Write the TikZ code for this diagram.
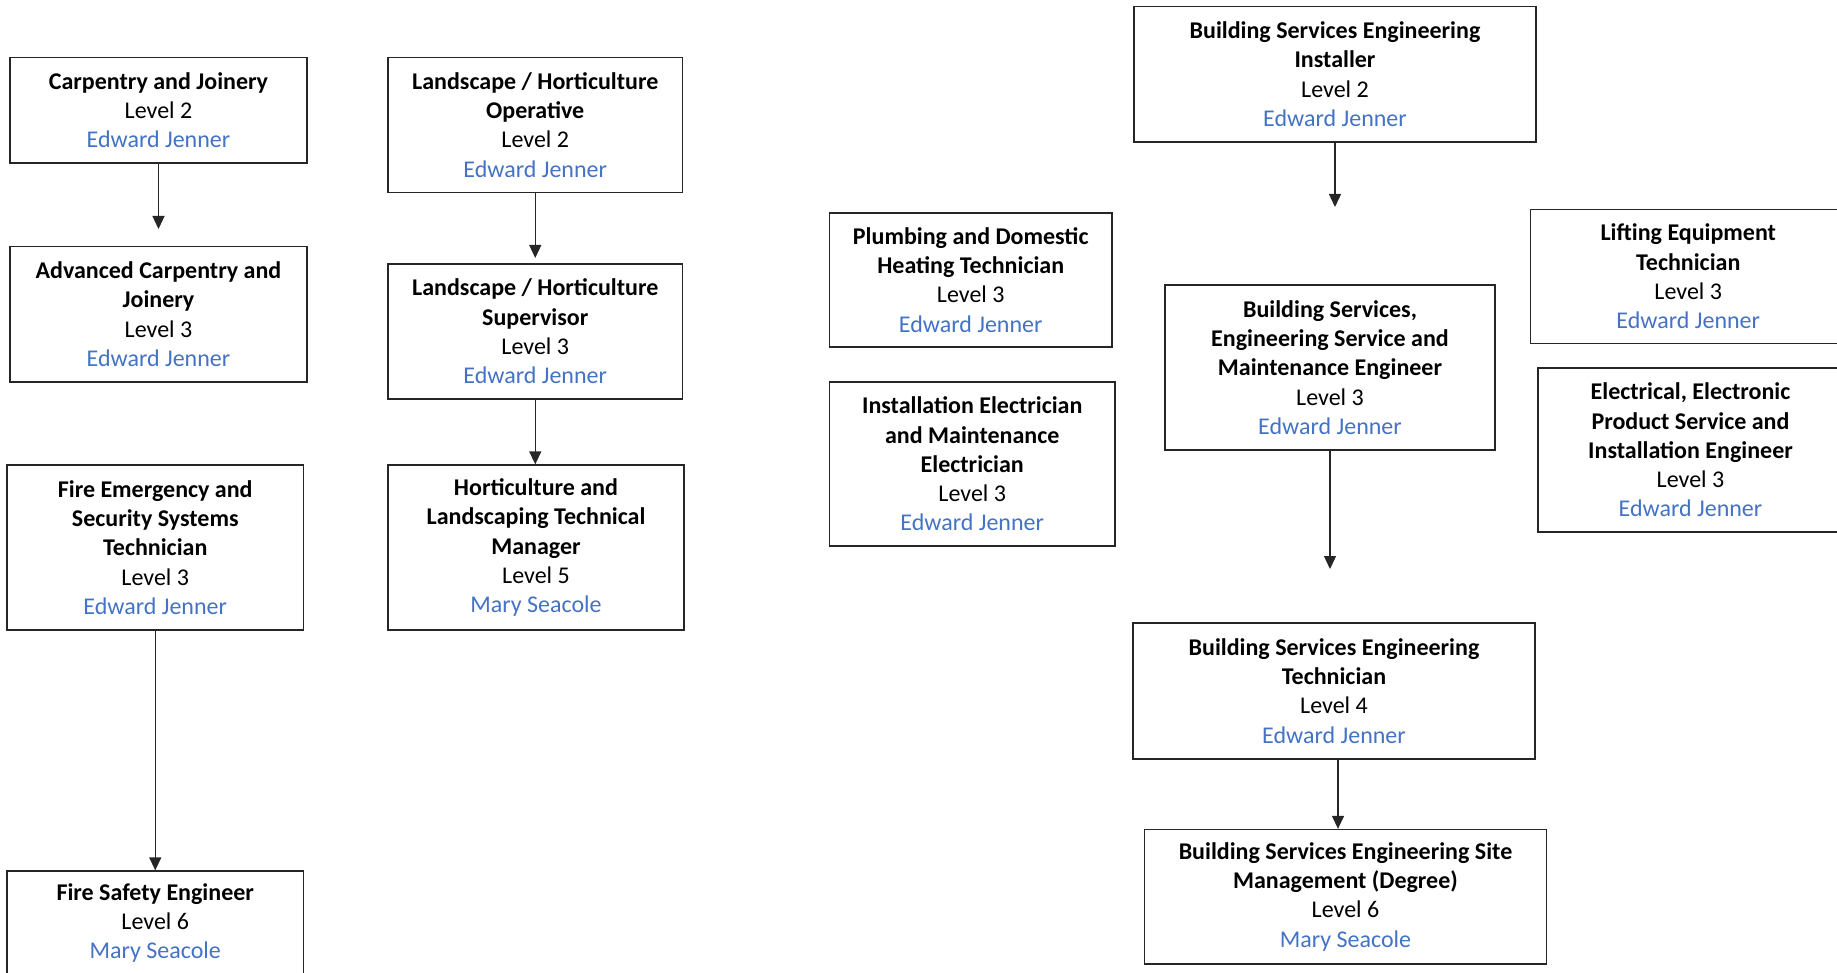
\documentclass[tikz,border=0pt]{standalone}
\usepackage{fontspec}
\setmainfont{Carlito}
\usetikzlibrary{arrows.meta}
\definecolor{ej}{RGB}{68,114,196}
\tikzset{
  box/.style={draw=black!85, line width=1.3pt, align=center, inner sep=0pt,
    font=\fontsize{24}{29.3}\selectfont},
  arr/.style={draw=black!85, line width=1.3pt, -{Triangle[width=12pt,length=13pt]}}
}
\begin{document}
\begin{tikzpicture}[x=1pt,y=-1pt]
\useasboundingbox (0,0) rectangle (1837,973);
% left column
\node[box, minimum width=297pt, minimum height=105.5pt] (carp) at (158.5,110.25)
  {{\bfseries Carpentry and Joinery}\\Level 2\\{\color{ej}Edward Jenner}};
\node[box, minimum width=297pt, minimum height=135.5pt] (adv) at (158.5,314.25)
  {{\bfseries Advanced Carpentry and}\\{\bfseries Joinery}\\Level 3\\{\color{ej}Edward Jenner}};
\node[box, minimum width=296.5pt, minimum height=165pt] (fire) at (155.25,547.5)
  {{\bfseries Fire Emergency and}\\{\bfseries Security Systems}\\{\bfseries Technician}\\Level 3\\{\color{ej}Edward Jenner}};
\node[box, minimum width=296.5pt, minimum height=104pt] (fsafe) at (155.25,923)
  {{\bfseries Fire Safety Engineer}\\Level 6\\{\color{ej}Mary Seacole}};
% landscape column
\node[box, minimum width=294.5pt, minimum height=134.8pt] (lop) at (535.25,124.9)
  {{\bfseries Landscape / Horticulture}\\{\bfseries Operative}\\Level 2\\{\color{ej}Edward Jenner}};
\node[box, minimum width=294.5pt, minimum height=135pt] (lsup) at (535.25,331.5)
  {{\bfseries Landscape / Horticulture}\\{\bfseries Supervisor}\\Level 3\\{\color{ej}Edward Jenner}};
\node[box, minimum width=296pt, minimum height=165pt] (hman) at (536,547.5)
  {{\bfseries Horticulture and}\\{\bfseries Landscaping Technical}\\{\bfseries Manager}\\Level 5\\{\color{ej}Mary Seacole}};
% middle column
\node[box, minimum width=282.5pt, minimum height=134pt] (plumb) at (970.75,280)
  {{\bfseries Plumbing and Domestic}\\{\bfseries Heating Technician}\\Level 3\\{\color{ej}Edward Jenner}};
\node[box, minimum width=285.5pt, minimum height=164pt] (inst) at (972.25,464)
  {{\bfseries Installation Electrician}\\{\bfseries and Maintenance}\\{\bfseries Electrician}\\Level 3\\{\color{ej}Edward Jenner}};
% building services column
\node[box, minimum width=402pt, minimum height=135.5pt] (bsei) at (1335,74.25)
  {{\bfseries Building Services Engineering}\\{\bfseries Installer}\\Level 2\\{\color{ej}Edward Jenner}};
\node[box, minimum width=330pt, minimum height=165pt] (bsm) at (1330,367.5)
  {{\bfseries Building Services,}\\{\bfseries Engineering Service and}\\{\bfseries Maintenance Engineer}\\Level 3\\{\color{ej}Edward Jenner}};
\node[box, minimum width=402pt, minimum height=136pt] (bset) at (1334,691)
  {{\bfseries Building Services Engineering}\\{\bfseries Technician}\\Level 4\\{\color{ej}Edward Jenner}};
\node[box, minimum width=402pt, minimum height=134.5pt] (bssm) at (1345.5,896.75)
  {{\bfseries Building Services Engineering Site}\\{\bfseries Management (Degree)}\\Level 6\\{\color{ej}Mary Seacole}};
% right column
\node[box, minimum width=315.5pt, minimum height=134pt] (lift) at (1688.25,276.5)
  {{\bfseries Lifting Equipment}\\{\bfseries Technician}\\Level 3\\{\color{ej}Edward Jenner}};
\node[box, minimum width=305pt, minimum height=164pt] (elec) at (1690.5,450)
  {{\bfseries Electrical, Electronic}\\{\bfseries Product Service and}\\{\bfseries Installation Engineer}\\Level 3\\{\color{ej}Edward Jenner}};
% free arrow ends
\coordinate (e1) at (158.5,229);
\coordinate (e2) at (535.25,258);
\coordinate (e3) at (1335,207);
\coordinate (e4) at (1330,569);
% connectors
\draw[arr] (carp.south) -- (e1);
\draw[arr] (lop.south) -- (e2);
\draw[arr] (lsup.south) -- (lsup.south |- hman.north);
\draw[arr] (fire.south) -- (fire.south |- fsafe.north);
\draw[arr] (bsei.south) -- (e3);
\draw[arr] (bsm.south) -- (e4);
\draw[arr] ([xshift=4pt]bset.south) -- ([xshift=4pt]bset.south |- bssm.north);
\end{tikzpicture}
\end{document}
